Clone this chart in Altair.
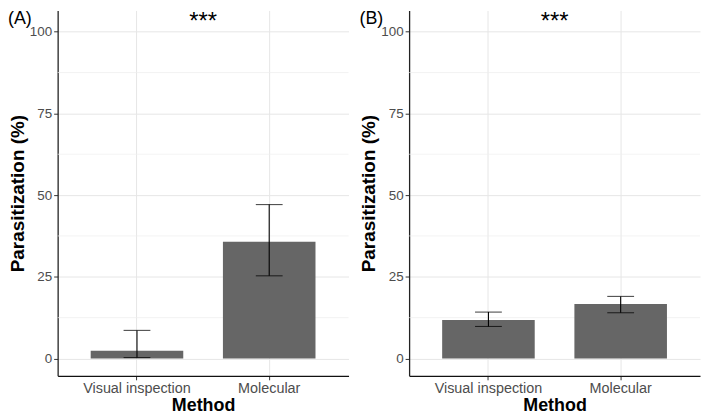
import altair as alt
import pandas as pd

# ---- data ----
methods = ["Visual inspection", "Molecular"]
a_mean = [2.4, 35.7]
a_low = [0.3, 25.3]
a_high = [8.6, 47.1]
b_mean = [11.8, 16.7]
b_low = [9.8, 14.0]
b_high = [14.2, 19.0]
major_ticks = [0, 25, 50, 75, 100]
minor_grid = [12.5, 37.5, 62.5, 87.5]
sig_label = ["***"]
sig_y = [103]
panel_tags = ["(A)", "(B)"]

W, H = 293, 368
FONT = "Liberation Sans"
YDOM = [-5.3, 106.5]
yscale = alt.Scale(domain=YDOM, nice=False, zero=False)
xscale = alt.Scale(domain=methods, paddingInner=0.3, paddingOuter=0.25)

yaxis = alt.Axis(values=major_ticks, grid=True, gridColor="#E6E6E6", gridWidth=1,
                 labelFontSize=13.5, labelColor="#4D4D4D", labelFont=FONT, labelPadding=2,
                 tickSize=4, tickColor="#333333", domainColor="#222222", domainWidth=1.3,
                 titleFont=FONT, titleFontSize=19, titleFontWeight="bold", titleColor="black",
                 titlePadding=2)
xaxis = alt.Axis(labelAngle=0, grid=True, gridColor="#E6E6E6", gridWidth=1, bandPosition=0.5,
                 labelFontSize=14.5, labelColor="#4D4D4D", labelFont=FONT, labelPadding=2,
                 tickSize=4, tickColor="#333333", domainColor="#111111", domainWidth=1.3,
                 titleFont=FONT, titleFontSize=18, titleFontWeight="bold", titleColor="black",
                 titlePadding=1)


def panel(mean, low, high, tag):
    df = pd.DataFrame({"Method": methods, "mean": mean, "low": low, "high": high})
    X = alt.X("Method:N", sort=methods, title="Method", scale=xscale, axis=xaxis)
    Y = alt.Y("mean:Q", title="Parasitization (%)", scale=yscale, axis=yaxis)

    minor = alt.Chart(pd.DataFrame({"g": minor_grid})).mark_rule(
        color="#EEEEEE", strokeWidth=0.7
    ).encode(y=alt.Y("g:Q", scale=yscale, title="Parasitization (%)", axis=yaxis))

    bars = alt.Chart(df).mark_bar(color="#666666").encode(x=X, y=Y)
    stem = alt.Chart(df).mark_rule(color="black", strokeWidth=1.1).encode(
        x=X, y=alt.Y("low:Q", scale=yscale, title="Parasitization (%)", axis=yaxis), y2="high:Q")
    cap_hi = alt.Chart(df).mark_tick(color="black", size=27, thickness=1.1).encode(
        x=X, y=alt.Y("high:Q", scale=yscale, title="Parasitization (%)", axis=yaxis))
    cap_lo = alt.Chart(df).mark_tick(color="black", size=27, thickness=1.1).encode(
        x=X, y=alt.Y("low:Q", scale=yscale, title="Parasitization (%)", axis=yaxis))

    sig = alt.Chart(pd.DataFrame({"lab": sig_label, "v": sig_y})).mark_text(
        font=FONT, fontSize=24, color="black", baseline="middle", align="center"
    ).encode(x=alt.value(W / 2),
             y=alt.Y("v:Q", scale=yscale, title="Parasitization (%)", axis=yaxis),
             text="lab:N")

    tagc = alt.Chart(pd.DataFrame({"t": [tag]})).mark_text(
        font=FONT, fontSize=18, color="black", baseline="top", align="left"
    ).encode(x=alt.value(-50), y=alt.value(0), text="t:N")

    return alt.layer(minor, bars, stem, cap_hi, cap_lo, sig, tagc).properties(width=W, height=H)


chart = alt.hconcat(
    panel(a_mean, a_low, a_high, panel_tags[0]),
    panel(b_mean, b_low, b_high, panel_tags[1]),
    spacing=10,
).properties(padding=0, background="white").configure_view(stroke=None)

chart.save("out.html", embed_options={"renderer": "svg", "actions": False})
